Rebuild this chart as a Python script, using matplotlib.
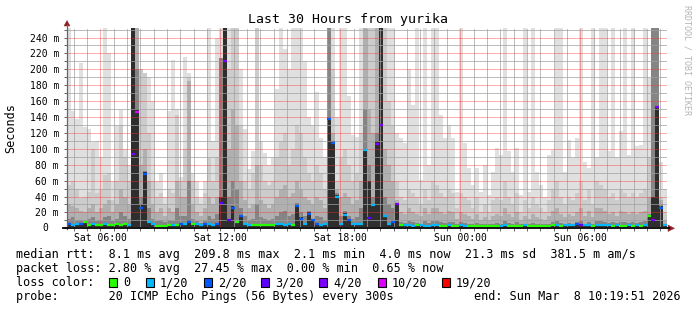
import datetime as dt
import matplotlib
matplotlib.use("Agg")
import matplotlib.pyplot as plt
import matplotlib.dates as mdates
from matplotlib.patches import Rectangle, Polygon
from matplotlib.lines import Line2D
from matplotlib.ticker import MultipleLocator, FixedLocator, FuncFormatter

plt.rcParams['font.family'] = ['DejaVu Sans Mono']

# ---------------- data (12-minute consolidated steps, ms) ----------------
end_time = dt.datetime(2026, 3, 8, 10, 19, 51)
span_hours = 30
step_minutes = 12
rtt_floor = 2.1

rtt_max = [
    260, 147, 137, 208, 128, 125, 109, 110, 90, 260,
    220, 60, 130, 149, 100, 80, 260, 260, 200, 195,
    190, 160, 60, 70, 40, 147, 212, 150, 65, 215,
    195, 70, 60, 40, 60, 260, 110, 240, 260, 260,
    260, 260, 260, 200, 125, 75, 97, 260, 110, 95,
    80, 90, 175, 260, 225, 200, 260, 260, 260, 210,
    140, 130, 172, 113, 90, 260, 260, 140, 260, 260,
    166, 118, 115, 260, 260, 260, 260, 260, 260, 260,
    260, 260, 120, 113, 107, 200, 155, 260, 61, 260,
    80, 260, 260, 143, 113, 130, 113, 46, 260, 107,
    76, 55, 76, 46, 80, 42, 71, 101, 92, 260,
    97, 71, 101, 42, 260, 46, 260, 71, 55, 40,
    92, 99, 260, 260, 71, 111, 88, 113, 260, 84,
    76, 260, 90, 260, 260, 97, 260, 90, 122, 260,
    92, 260, 103, 105, 260, 189, 260, 260, 84, 50]

rtt_p90 = [
    55, 60, 50, 38, 40, 46, 100, 45, 50, 67,
    70, 35, 60, 130, 90, 60, 260, 260, 200, 195,
    120, 60, 40, 45, 30, 50, 45, 143, 60, 100,
    190, 60, 40, 30, 45, 88, 60, 90, 214, 260,
    200, 260, 260, 130, 60, 50, 70, 260, 80, 60,
    55, 60, 90, 110, 120, 80, 100, 130, 120, 90,
    70, 60, 80, 70, 50, 260, 200, 60, 90, 100,
    80, 60, 70, 120, 260, 260, 260, 260, 260, 260,
    160, 130, 60, 40, 35, 50, 45, 40, 30, 50,
    35, 60, 55, 45, 40, 50, 45, 25, 45, 40,
    35, 25, 40, 20, 30, 20, 35, 40, 35, 60,
    40, 30, 45, 20, 35, 25, 40, 30, 25, 20,
    35, 50, 60, 40, 30, 40, 35, 45, 60, 35,
    50, 30, 60, 55, 50, 40, 45, 35, 50, 45,
    40, 45, 40, 45, 50, 90, 260, 260, 40, 20]

rtt_p75 = [
    30, 28, 25, 22, 20, 25, 30, 20, 25, 30,
    35, 20, 30, 50, 40, 30, 260, 260, 80, 100,
    60, 30, 20, 25, 15, 25, 20, 60, 40, 40,
    185, 30, 20, 15, 25, 40, 30, 40, 214, 260,
    100, 150, 130, 60, 35, 25, 30, 80, 35, 30,
    25, 30, 40, 50, 55, 40, 45, 60, 50, 40,
    35, 30, 40, 35, 25, 260, 120, 50, 40, 45,
    40, 30, 35, 60, 260, 150, 120, 260, 260, 100,
    80, 60, 35, 20, 18, 25, 20, 18, 15, 25,
    18, 25, 25, 20, 18, 22, 20, 12, 20, 18,
    15, 12, 18, 10, 14, 10, 15, 18, 15, 25,
    18, 14, 20, 10, 15, 12, 18, 14, 12, 10,
    15, 22, 25, 18, 14, 18, 15, 20, 25, 15,
    22, 14, 25, 25, 22, 18, 20, 16, 22, 20,
    18, 20, 18, 20, 22, 40, 260, 260, 35, 10]

rtt_p60 = [
    12, 14, 10, 10, 9, 12, 14, 9, 10, 14,
    15, 9, 12, 20, 16, 12, 260, 200, 40, 72,
    25, 12, 9, 10, 8, 10, 9, 25, 15, 15,
    60, 12, 9, 7, 10, 15, 12, 18, 214, 260,
    40, 60, 50, 25, 15, 10, 12, 30, 14, 12,
    10, 12, 15, 20, 22, 15, 18, 32, 20, 15,
    22, 12, 15, 14, 10, 260, 60, 45, 15, 22,
    15, 12, 14, 25, 150, 80, 40, 120, 260, 40,
    30, 25, 32, 8, 7, 9, 8, 7, 6, 9,
    7, 9, 9, 8, 7, 8, 8, 6, 8, 7,
    6, 6, 7, 5, 6, 5, 6, 7, 6, 9,
    7, 6, 8, 5, 6, 5, 7, 6, 6, 5,
    6, 8, 9, 7, 6, 7, 6, 8, 9, 6,
    8, 6, 9, 9, 8, 7, 8, 7, 8, 8,
    7, 8, 7, 8, 9, 18, 260, 260, 30, 5]

rtt_core = [
    6, 5, 6, 7, 9, 5, 6, 5, 5, 6,
    5, 5, 6, 5, 6, 5, 260, 150, 30, 71,
    9, 6, 4, 4, 4, 5, 5, 5, 7, 6,
    10, 7, 6, 5, 6, 6, 5, 6, 40, 260,
    12, 28, 9, 17, 6, 5, 5, 5, 5, 5,
    5, 5, 6, 6, 5, 6, 5, 30, 14, 6,
    20, 12, 7, 5, 6, 139, 110, 42, 6, 19,
    12, 6, 6, 6, 99, 60, 31, 110, 260, 17,
    7, 9, 32, 5, 5, 5, 4, 5, 5, 4,
    4, 5, 5, 4, 4, 5, 4, 4, 5, 4,
    4, 4, 4, 3.5, 4, 3.5, 4, 4, 4, 5,
    4, 4, 4, 4, 5, 4, 4, 4, 4, 4,
    4, 5, 5, 4, 5, 5, 5, 6, 5, 5,
    5, 4, 5, 5, 5, 5, 4, 5, 4, 4,
    5, 4, 5, 4, 5, 17, 40, 152, 28, 5]

rtt_median = [
    5, 4, 5, 6, 8, 4, 5, 4, 4, 5,
    4, 4, 5, 4, 5, 4, 94, 146, 25, 68,
    8, 5, 3, 3, 3, 4, 4, 4, 6, 5,
    8, 6, 5, 4, 5, 5, 4, 5, 32, 210,
    10, 25, 8, 15, 5, 4, 4, 4, 4, 4,
    4, 4, 5, 5, 4, 5, 4, 28, 12, 5,
    18, 10, 6, 4, 5, 137, 107, 40, 5, 17,
    10, 5, 5, 5, 98, 13, 29, 106, 130, 15,
    6, 8, 30, 4, 4, 4, 3, 4, 4, 3,
    3, 4, 4, 3, 3, 4, 3, 3, 4, 3,
    3, 3, 3, 2.5, 3, 2.5, 3, 3, 3, 4,
    3, 3, 3, 3, 4, 3, 3, 3, 3, 3,
    3, 4, 4, 3, 4, 4, 4, 5, 4, 4,
    4, 3, 4, 4, 4, 4, 3, 4, 3, 3,
    4, 3, 4, 3, 4, 15, 10, 152, 26, 4]

loss_count = [
    2, 1, 1, 2, 0, 0, 1, 0, 0, 1,
    0, 0, 0, 0, 0, 1, 4, 10, 2, 2,
    1, 1, 0, 0, 0, 0, 1, 0, 2, 1,
    2, 0, 1, 1, 2, 1, 1, 2, 3, 4,
    3, 2, 0, 2, 1, 1, 0, 0, 0, 0,
    0, 0, 1, 1, 1, 1, 0, 2, 2, 1,
    2, 2, 2, 1, 1, 2, 2, 1, 1, 1,
    2, 1, 1, 1, 1, 3, 1, 4, 4, 1,
    1, 2, 4, 0, 1, 1, 1, 0, 1, 1,
    1, 1, 1, 0, 0, 1, 0, 0, 1, 1,
    0, 0, 0, 0, 0, 0, 0, 0, 1, 1,
    0, 0, 0, 0, 1, 0, 0, 0, 0, 0,
    0, 0, 1, 0, 1, 1, 1, 2, 3, 1,
    1, 0, 1, 1, 1, 1, 0, 1, 0, 0,
    1, 0, 1, 0, 1, 0, 4, 4, 2, 1]

loss_levels = [0, 1, 2, 3, 4, 10, 19]
loss_labels = ["0", "1/20", "2/20", "3/20", "4/20", "10/20", "19/20"]
loss_colors = ["#26ff00", "#00b8ff", "#0059ff", "#5e00ff", "#7e00ff", "#dd00ff", "#ff0000"]

title = "Last 30 Hours from yurika"
legend_rows = [
    "median rtt:  8.1 ms avg  209.8 ms max  2.1 ms min  4.0 ms now  21.3 ms sd  381.5 m am/s",
    "packet loss: 2.80 % avg  27.45 % max  0.00 % min  0.65 % now",
    "loss color:",
    "probe:       20 ICMP Echo Pings (56 Bytes) every 300s",
]
end_label = "end: Sun Mar  8 10:19:51 2026"

# ---------------- figure ----------------
W, H = 697, 310
fig = plt.figure(figsize=(W / 100, H / 100), dpi=100)
fig.patch.set_facecolor("white")


def fx(x):
    return x / W


def fy(y):
    return 1 - y / H


ax_l, ax_r, ax_t, ax_b = 67, 667, 28, 228.3
ax = fig.add_axes([fx(ax_l), fy(ax_b), (ax_r - ax_l) / W, (ax_b - ax_t) / H])
ax.set_facecolor("white")

start_time = end_time - dt.timedelta(hours=span_hours)
n = len(rtt_median)
edges = mdates.date2num([start_time + dt.timedelta(minutes=step_minutes * k) for k in range(n + 1)])

layers = [(rtt_max, "#e0e0e0"), (rtt_p90, "#cccccc"), (rtt_p75, "#b0b0b0"),
          (rtt_p60, "#858585"), (rtt_core, "#2e2e2e")]
for vals, col in layers:
    ax.stairs(vals, edges, baseline=rtt_floor, fill=True, color=col, linewidth=0, zorder=1)


def loss_color(c):
    col = loss_colors[0]
    for lv, lc in zip(loss_levels, loss_colors):
        if c >= lv:
            col = lc
    return col


ax.hlines(rtt_median, edges[:-1], edges[1:], colors=[loss_color(c) for c in loss_count],
          linewidth=1.6, zorder=4)

ax.set_xlim(edges[0], edges[-1])
ax.set_ylim(0, 252)

# grid
ax.yaxis.set_major_locator(MultipleLocator(20))
ax.yaxis.set_minor_locator(MultipleLocator(10))
ax.yaxis.set_major_formatter(FuncFormatter(lambda v, p: f"{int(round(v))} m" if v > 0 else ""))
ax.xaxis.set_major_locator(mdates.HourLocator(byhour=[0, 6, 12, 18]))
ax.xaxis.set_major_formatter(mdates.DateFormatter("%a %H:%M"))
day0 = dt.datetime(start_time.year, start_time.month, start_time.day)
minor_x = []
t = day0
while t <= end_time:
    if t >= start_time:
        minor_x.append(mdates.date2num(t))
    t += dt.timedelta(minutes=40)
ax.xaxis.set_minor_locator(FixedLocator(minor_x))

ax.set_axisbelow(False)
ax.grid(which="minor", color="#a0a0a0", alpha=0.7, linestyle=(0, (1, 1)), linewidth=0.72,
        antialiased=False)
ax.grid(which="major", color="#ff3030", alpha=0.4, linestyle=(0, (1, 1)), linewidth=0.72,
        antialiased=False)

for s in ax.spines.values():
    s.set_visible(False)
ax.tick_params(axis="y", which="both", length=2, width=0.7, color="#666666",
               direction="out", labelsize=7, pad=3.8)
ax.tick_params(axis="x", which="both", length=2, width=0.7, color="#666666",
               direction="out", labelsize=7, pad=1.2)
# the zero label sits in the number column (no unit), as rrdtool prints it
ax.text(-19 / 600, 0, "0", transform=ax.get_yaxis_transform(), ha="right", va="center",
        fontsize=7, color="black")

# axes lines and arrows
fig.add_artist(Line2D([fx(67), fx(67)], [fy(ax_b + 1), fy(25)], color="#666666", linewidth=0.9))
fig.add_artist(Line2D([fx(63), fx(669)], [fy(ax_b), fy(ax_b)], color="black", linewidth=1.3))
arrow_col = "#8f2020"
fig.add_artist(Polygon([(fx(64), fy(26)), (fx(70), fy(26)), (fx(67), fy(20.5))],
                       closed=True, facecolor=arrow_col, edgecolor=arrow_col, linewidth=0.3,
                       transform=fig.transFigure))
fig.add_artist(Polygon([(fx(668), fy(225)), (fx(668), fy(231.5)), (fx(674.5), fy(228.3))],
                       closed=True, facecolor=arrow_col, edgecolor=arrow_col, linewidth=0.3,
                       transform=fig.transFigure))

# texts
fig.text(fx(348.5), fy(19), title, ha="center", va="center", fontsize=9.5, color="black")
fig.text(fx(10.5), fy(128), "Seconds", rotation=90, ha="center", va="center", fontsize=8.5)
fig.text(fx(687.5), fy(60), "RRDTOOL / TOBI OETIKER", rotation=270, ha="center", va="center",
         fontsize=6, color="#b4b4b4")

row_y = [254.5, 268.5, 282.5, 296.5]
for txt, y in zip(legend_rows, row_y):
    fig.text(fx(16), fy(y), txt, ha="left", va="center", fontsize=8.5, color="black")
fig.text(fx(681), fy(row_y[3]), end_label, ha="right", va="center", fontsize=8.5, color="black")

box_x = [109, 146, 204, 261, 319, 378, 442]
for bx, lab, col in zip(box_x, loss_labels, loss_colors):
    fig.add_artist(Rectangle((fx(bx), fy(287)), 8 / W, 9 / H, facecolor=col, edgecolor="black",
                             linewidth=0.8, transform=fig.transFigure))
    fig.text(fx(bx + 14), fy(row_y[2]), lab, ha="left", va="center", fontsize=8.5, color="black")

fig.savefig("out.png", dpi=100, facecolor="white")
